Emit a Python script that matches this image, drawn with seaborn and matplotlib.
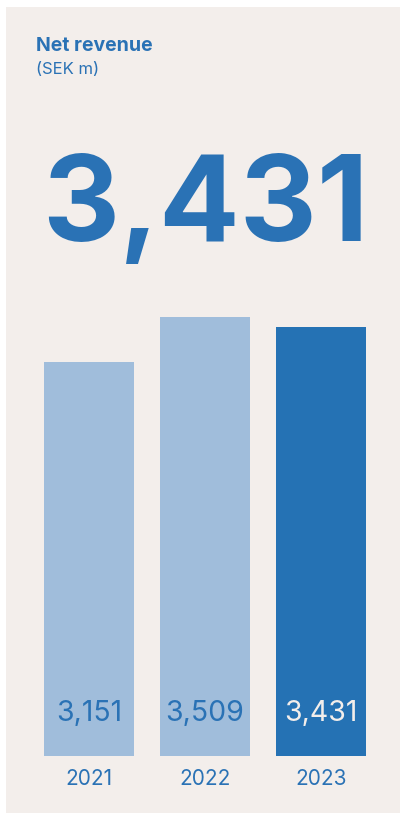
import matplotlib
matplotlib.use("Agg")
import matplotlib.pyplot as plt
from matplotlib.patches import Rectangle
import seaborn as sns
import pandas as pd

years = ["2021", "2022", "2023"]
revenue = [3151, 3509, 3431]
value_labels = ["3,151", "3,509", "3,431"]
headline = "3,431"
title = "Net revenue"
subtitle = "(SEK m)"

BG = "#f3eeeb"
LIGHT = "#a0bddb"
DARK = "#2572b4"
TXT = "#2a72b5"

sns.set_theme(style="white")
plt.rcParams["font.family"] = ["Inter", "DejaVu Sans"]

W, H = 402, 813
fig = plt.figure(figsize=(W / 100, H / 100), dpi=100)
fig.patch.set_facecolor("white")
fig.patches.append(Rectangle((6 / W, 0), (400 - 6) / W, (H - 7) / H,
                             transform=fig.transFigure, facecolor=BG,
                             edgecolor="none", zorder=-10))

# axes: y=0 at pixel 756, 8 SEK per px, ylim 0..4000 -> 500 px
ax_bottom = (H - 756) / H
ax_height = 500 / H
ax_left = 31 / W
ax_width = 348 / W
ax = fig.add_axes([ax_left, ax_bottom, ax_width, ax_height], zorder=5)
ax.set_facecolor("none")
ax.patch.set_alpha(0)

df = pd.DataFrame({"year": years, "revenue": revenue})
sns.barplot(data=df, x="year", y="revenue", hue="year",
            palette=[LIGHT, LIGHT, DARK], width=0.784, saturation=1,
            legend=False, ax=ax, linewidth=0, edgecolor="none")
ax.set_ylim(0, 4000)
ax.set_xlim(-0.5, 2.5)
ax.set_xlabel("")
ax.set_ylabel("")
ax.set_yticks([])
for s in ax.spines.values():
    s.set_visible(False)
ax.tick_params(axis="x", length=0, pad=9, labelsize=15, labelcolor=TXT)
for t in ax.get_xticklabels():
    t.set_fontweight("normal")

label_colors = [TXT, TXT, BG]
for i, (lab, c) in enumerate(zip(value_labels, label_colors)):
    ax.annotate(lab, xy=(i, 0), xytext=(0, 43 * 0.72), textcoords="offset points",
                ha="center", va="center", fontsize=20.5, color=c,
                fontweight="normal")

fig.text(36 / W, 1 - 46 / H, title, fontsize=14, fontweight="bold",
         color=TXT, va="center", ha="left")
fig.text(36 / W, 1 - 69 / H, subtitle, fontsize=12, color=TXT,
         va="center", ha="left")
fig.text(205 / W, 1 - 241 / H, headline, fontsize=86, fontweight="bold",
         color=TXT, va="baseline", ha="center")

fig.savefig("out.png", dpi=100, facecolor="white")
